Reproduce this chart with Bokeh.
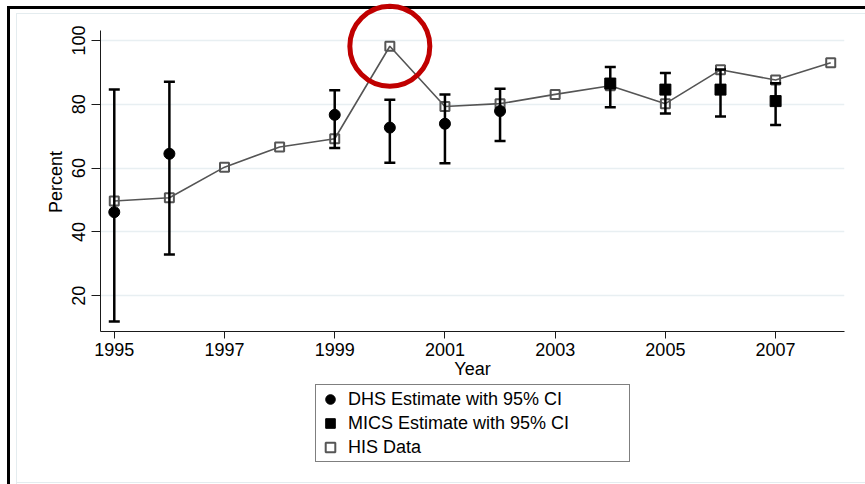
from bokeh.plotting import figure
from bokeh.models import (ColumnDataSource, Whisker, TeeHead, FixedTicker, Legend,
                          LegendItem, Column)
from bokeh.embed import file_html
from bokeh.resources import INLINE

# ---------------- data ----------------
his_years = [1995, 1996, 1997, 1998, 1999, 2000, 2001, 2002, 2003, 2004, 2005, 2006, 2007, 2008]
his_values = [49.7, 50.7, 60.3, 66.6, 69.2, 98.2, 79.3, 80.2, 83.1, 85.8, 80.2, 90.8, 87.6, 93.0]

dhs_years = [1995, 1996, 1999, 2000, 2001, 2002]
dhs_values = [46.2, 64.5, 76.7, 72.7, 73.9, 77.9]
dhs_lower = [11.9, 32.9, 66.3, 61.7, 61.5, 68.5]
dhs_upper = [84.6, 87.1, 84.4, 81.4, 83.1, 84.9]

mics_years = [2004, 2005, 2006, 2007]
mics_values = [86.5, 84.6, 84.6, 81.0]
mics_lower = [79.1, 77.1, 76.2, 73.5]
mics_upper = [91.7, 89.8, 90.9, 86.6]

x_ticks = [1995, 1997, 1999, 2001, 2003, 2005, 2007]
y_ticks = [20, 40, 60, 80, 100]

highlight_year = 2000
legend_labels = ["DHS Estimate with 95% CI", "MICS Estimate with 95% CI", "HIS Data"]

FONT = "Liberation Sans"
HIS_COLOR = "#555555"

# ---------------- main figure ----------------
p = figure(frame_width=744, frame_height=329, x_range=(1994.75, 2008.25), y_range=(8.8, 111.9),
           output_backend="svg", toolbar_location=None,
           min_border_left=100, min_border_right=21, min_border_top=2, min_border_bottom=53)
p.title.visible = False
p.outline_line_color = None
p.background_fill_alpha = 0
p.border_fill_alpha = 0

for ax in (p.xaxis, p.yaxis):
    ax.axis_line_color = "#1a1a1a"
    ax.major_tick_line_color = "#1a1a1a"
    ax.minor_tick_line_color = None
    ax.major_tick_in = 0
    ax.major_label_text_font = FONT
    ax.major_label_text_font_size = "18px"
    ax.major_label_text_color = "black"
    ax.axis_label_text_font = FONT
    ax.axis_label_text_font_size = "18px"
    ax.axis_label_text_font_style = "normal"
    ax.axis_label_text_color = "black"

p.xaxis.ticker = FixedTicker(ticks=x_ticks)
p.xaxis.major_tick_out = 7
p.xaxis.major_label_standoff = 4
p.xaxis.axis_label = "Year"
p.xaxis.axis_label_standoff = 0

p.yaxis.ticker = FixedTicker(ticks=y_ticks)
p.yaxis.bounds = (8.8, 103.1)
p.yaxis.major_tick_out = 9
p.yaxis.major_label_orientation = "vertical"
p.yaxis.major_label_standoff = 6
# trailing no-break spaces centre the label on the drawn axis line rather than the taller frame
p.yaxis.axis_label = "Percent" + "\u00a0" * 6
p.yaxis.axis_label_standoff = 4

p.xgrid.visible = False
p.ygrid.ticker = FixedTicker(ticks=y_ticks)
p.ygrid.grid_line_color = "#e8eff2"
p.ygrid.grid_line_width = 1.5

# HIS series
his_src = ColumnDataSource(dict(x=his_years, y=his_values))
p.line("x", "y", source=his_src, line_color=HIS_COLOR, line_width=1.6)
p.scatter("x", "y", source=his_src, marker="square", size=9,
          fill_color=None, line_color=HIS_COLOR, line_width=2)

# DHS
dhs_src = ColumnDataSource(dict(x=dhs_years, y=dhs_values, lower=dhs_lower, upper=dhs_upper))
p.add_layout(Whisker(source=dhs_src, base="x", upper="upper", lower="lower",
                     line_color="black", line_width=2.5, level="glyph",
                     upper_head=TeeHead(size=11, line_color="black", line_width=2.5),
                     lower_head=TeeHead(size=11, line_color="black", line_width=2.5)))
p.scatter("x", "y", source=dhs_src, marker="circle", size=11,
          fill_color="black", line_color="black")

# MICS
mics_src = ColumnDataSource(dict(x=mics_years, y=mics_values, lower=mics_lower, upper=mics_upper))
p.add_layout(Whisker(source=mics_src, base="x", upper="upper", lower="lower",
                     line_color="black", line_width=2.5, level="glyph",
                     upper_head=TeeHead(size=11, line_color="black", line_width=2.5),
                     lower_head=TeeHead(size=11, line_color="black", line_width=2.5)))
p.scatter("x", "y", source=mics_src, marker="square", size=11,
          fill_color="black", line_color="black")

# red highlight ring around the HIS outlier
hy = his_values[his_years.index(highlight_year)]
p.scatter([highlight_year], [hy], marker="circle", size=80, fill_color=None,
          line_color="#c00000", line_width=5)

# ---------------- legend strip (series renderers kept outside its view) ----------------
lf = figure(width=865, height=100, x_range=(0, 1), y_range=(0, 1),
            output_backend="svg", toolbar_location=None,
            x_axis_location=None, y_axis_location=None,
            min_border=0, min_border_left=0, min_border_right=0,
            min_border_top=0, min_border_bottom=0)
lf.title.visible = False
lf.outline_line_color = None
lf.background_fill_alpha = 0
lf.border_fill_alpha = 0
lf.xgrid.visible = False
lf.ygrid.visible = False

r_dhs = lf.scatter("x", "y", source=ColumnDataSource(dict(x=dhs_years, y=dhs_values)),
                   marker="circle", size=11, fill_color="black", line_color="black")
r_mics = lf.scatter("x", "y", source=ColumnDataSource(dict(x=mics_years, y=mics_values)),
                    marker="square", size=11, fill_color="black", line_color="black")
r_his = lf.scatter("x", "y", source=ColumnDataSource(dict(x=his_years, y=his_values)),
                   marker="square", size=9, fill_color=None, line_color=HIS_COLOR, line_width=2)

legend = Legend(items=[LegendItem(label=legend_labels[0], renderers=[r_dhs]),
                       LegendItem(label=legend_labels[1], renderers=[r_mics]),
                       LegendItem(label=legend_labels[2], renderers=[r_his])],
                location=(215, 22), orientation="vertical",
                label_text_font=FONT, label_text_font_size="18px", label_text_color="black",
                border_line_color="black", border_line_width=1,
                background_fill_color="white", background_fill_alpha=1,
                padding=2, spacing=0, glyph_width=24, glyph_height=24, label_height=24,
                label_standoff=6, label_width=279, margin=0)
lf.add_layout(legend)

layout = Column(children=[p, lf], spacing=0, styles={
    "background": ("linear-gradient(#000,#000) 7px 6px / 3px 100% no-repeat, "
                   "linear-gradient(#000,#000) 7px 6px / 100% 3px no-repeat, "
                   "linear-gradient(#e4ecef,#e4ecef) 16px 13px / 1px 100% no-repeat, "
                   "linear-gradient(#e4ecef,#e4ecef) 16px 13px / 100% 1px no-repeat, "
                   "linear-gradient(#e4ecef,#e4ecef) 16px 482px / 100% 1px no-repeat, "
                   "#ffffff"),
})

open("out.html", "w").write(file_html(layout, INLINE))
